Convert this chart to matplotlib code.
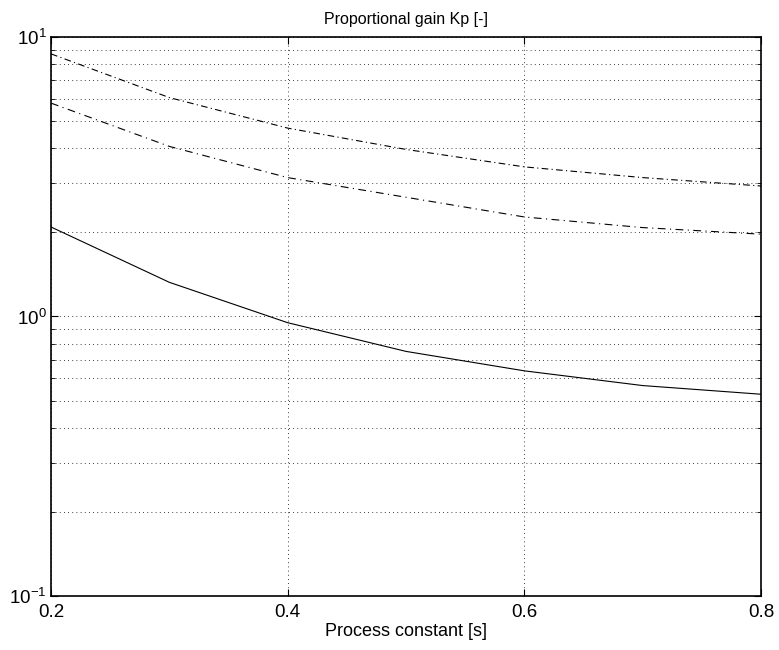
import matplotlib
matplotlib.use("Agg")
import matplotlib.pyplot as plt
from matplotlib.ticker import LogLocator, FixedLocator

plt.rcParams['font.family'] = ['Liberation Sans', 'DejaVu Sans']
plt.rcParams['mathtext.fontset'] = 'custom'
plt.rcParams['mathtext.rm'] = 'Liberation Sans'
plt.rcParams['mathtext.it'] = 'Liberation Sans'
plt.rcParams['mathtext.bf'] = 'Liberation Sans'

process_constant = [0.2, 0.3, 0.4, 0.5, 0.6, 0.7, 0.8]
kp_low = [2.09, 1.325, 0.95, 0.75, 0.639, 0.566, 0.527]
kp_mid = [5.8, 4.06, 3.14, 2.67, 2.27, 2.08, 1.97]
kp_high = [8.7, 6.07, 4.72, 3.96, 3.43, 3.14, 2.93]

title = "Proportional gain Kp [-]"
xlabel = "Process constant [s]"
xticks = [0.2, 0.4, 0.6, 0.8]

fig = plt.figure(figsize=(7.79, 6.5), dpi=100)
ax = fig.add_axes([0.0655, 0.0831, 0.9115, 0.8600])

ax.plot(process_constant, kp_low, color='black', linewidth=0.8, linestyle='-')
ax.plot(process_constant, kp_mid, color='black', linewidth=0.8,
        linestyle=(0, (7, 4, 1, 4)))
ax.plot(process_constant, kp_high, color='black', linewidth=0.8,
        linestyle=(0, (6, 3, 1, 3)))

ax.set_yscale('log')
ax.set_xlim(0.2, 0.8)
ax.set_ylim(0.1, 10)
ax.xaxis.set_major_locator(FixedLocator(xticks))
ax.set_xticklabels([f"{v:.1f}" for v in xticks])
ax.yaxis.set_major_locator(LogLocator(base=10, numticks=10))
ax.yaxis.set_minor_locator(LogLocator(base=10, subs=range(2, 10), numticks=20))

ax.grid(True, which='major', axis='both', linestyle=(0, (1, 4)), color='black', linewidth=0.6)
ax.grid(True, which='minor', axis='y', linestyle=(0, (1, 4)), color='black', linewidth=0.6)

ax.tick_params(which='both', direction='in', top=True, right=True, labelsize=13.5, color='black')
ax.tick_params(which='major', length=5, width=0.8)
ax.tick_params(axis='x', which='major', pad=6)
ax.tick_params(axis='y', which='major', pad=3)
ax.tick_params(which='minor', length=3, width=0.6)
for s in ax.spines.values():
    s.set_linewidth(1.2)
    s.set_color('black')

ax.set_title(title, fontsize=11.5, pad=9)
ax.set_xlabel(xlabel, fontsize=13, labelpad=1)

fig.savefig("out.png", dpi=100)
